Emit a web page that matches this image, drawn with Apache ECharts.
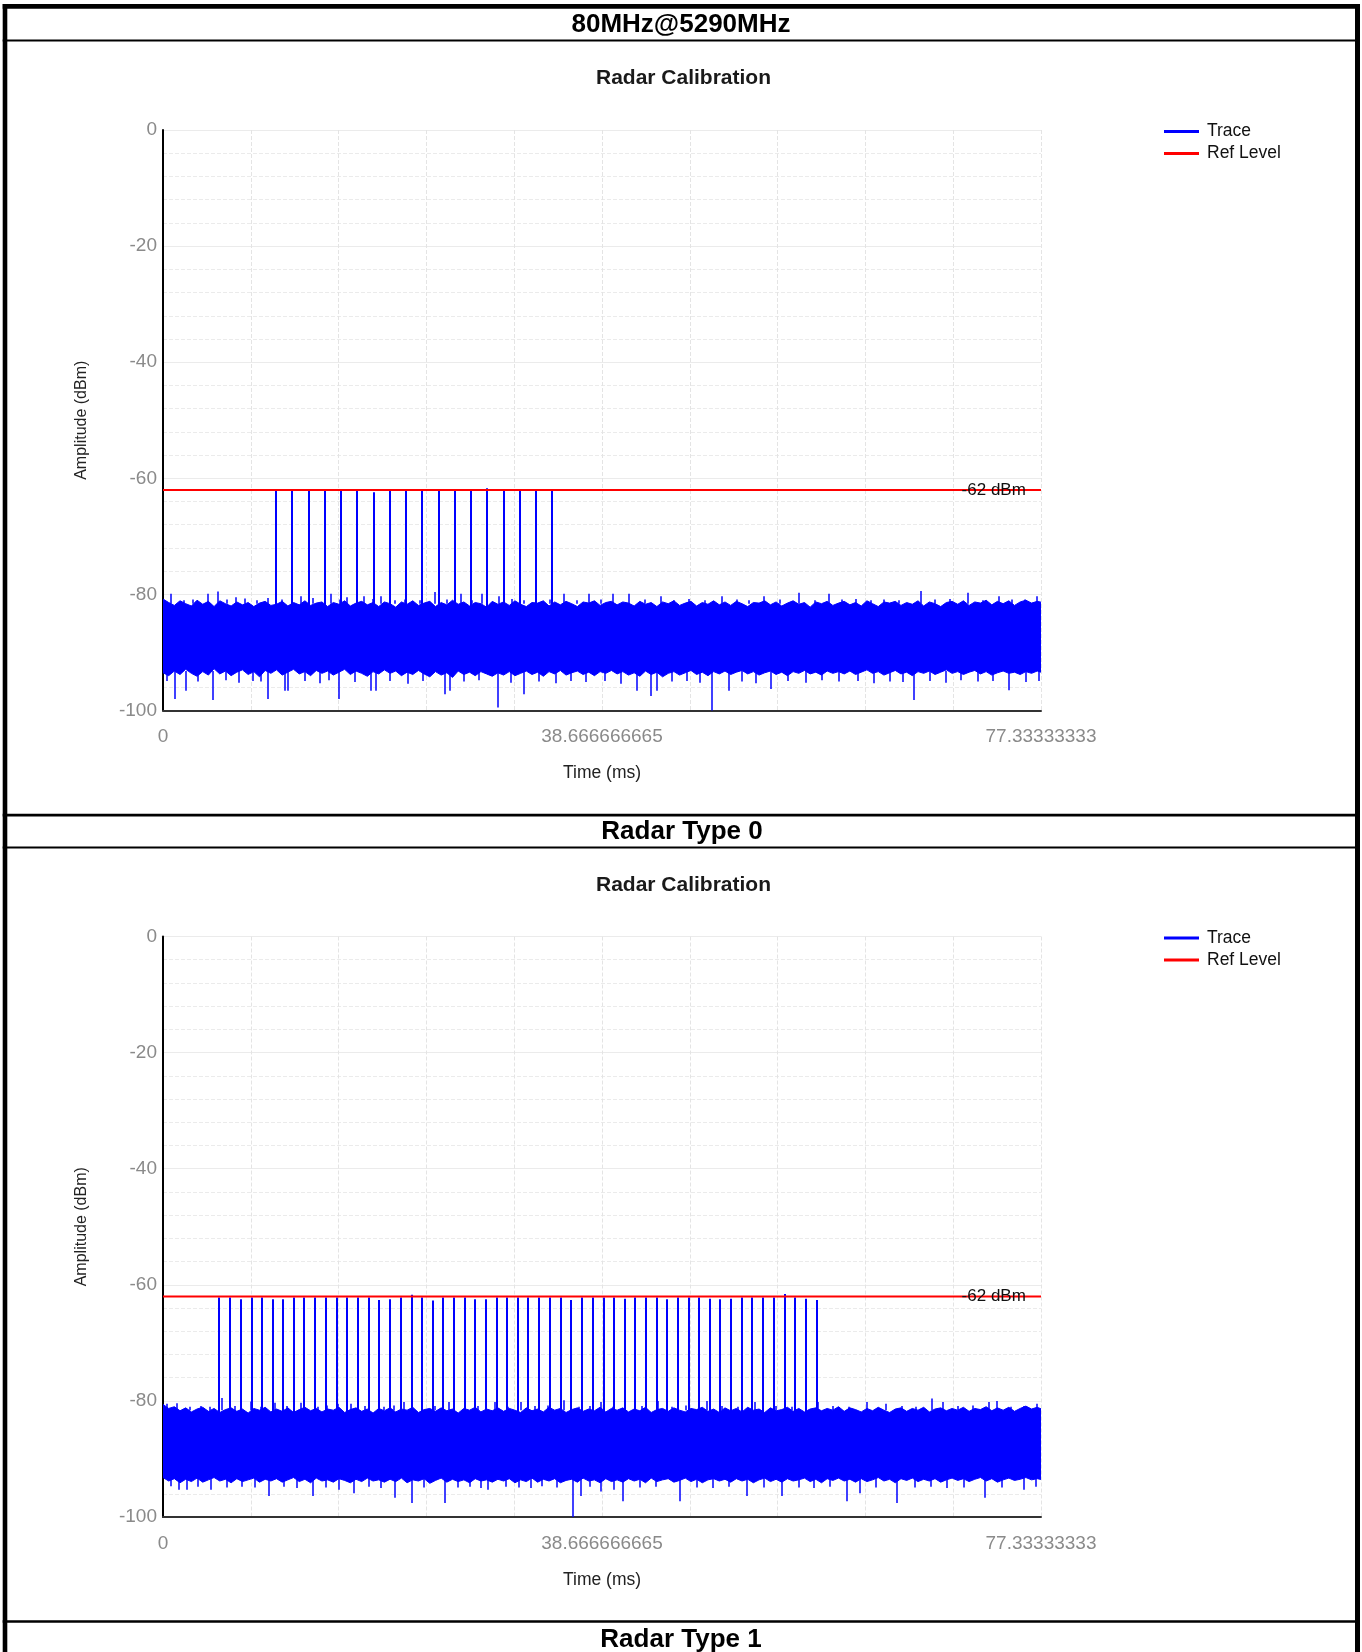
<!DOCTYPE html>
<html><head><meta charset="utf-8">
<script src="https://cdn.jsdelivr.net/npm/echarts@6/dist/echarts.min.js"></script>
<style>html,body{margin:0;padding:0;background:#fff}#c{width:1362px;height:1652px}</style>
</head><body><div id="c"></div>
<script>
// ---------- text ----------
const pageTitle = '80MHz@5290MHz';
const panelCaptions = ['Radar Type 0', 'Radar Type 1'];
const chartTitle = 'Radar Calibration';
const xAxisName = 'Time (ms)';
const yAxisName = 'Amplitude (dBm)';
const legendNames = ['Trace', 'Ref Level'];

// ---------- axes ----------
const timeMax = 77.33333333;
const xTickValues = [0, 38.666666665, 77.33333333];
const xTickLabels = ['0', '38.666666665', '77.33333333'];
const yMin = -100, yMax = 0, yStep = 20;
const refLevel = -62;
const noiseStepMs = 0.5; // sampling step of the envelope arrays below

// ---------- panel 0 (Radar Type 0) ----------
const pulseTimes0 = [9.93,11.36,12.80,14.24,15.65,17.09,18.52,19.97,21.38,22.81,24.25,25.69,27.10,28.54,29.97,31.42,32.83,34.26];
const pulsePeaks0 = [-62.1,-62.1,-62.1,-62.1,-62.1,-62.1,-62.4,-62.1,-62.1,-62.1,-62.1,-62.1,-62.1,-61.7,-62.2,-62.1,-62.1,-62.1];
const noiseTop0 = [
-80.8,-81.4,-81.9,-81.1,-81.6,-82.0,-81.0,-81.7,-81.2,-82.1,-81.1,-81.6,-82.0,-81.3,-81.8,-81.4,-82.1,-81.5,-81.2,-81.9,
-81.7,-81.2,-82.0,-81.4,-81.8,-81.1,-81.9,-81.5,-81.3,-82.1,-81.4,-81.7,-81.1,-82.0,-81.5,-81.2,-81.8,-81.4,-82.1,-81.3,
-81.6,-82.2,-81.3,-81.7,-81.1,-81.9,-81.5,-81.2,-82.1,-81.4,-81.8,-81.0,-81.7,-81.3,-82.0,-81.4,-81.6,-82.2,-81.2,-81.7,
-81.3,-81.9,-81.1,-81.7,-82.1,-81.4,-81.5,-81.1,-82.0,-81.3,-81.8,-81.2,-81.6,-82.1,-81.3,-81.5,-81.1,-81.9,-81.4,-81.2,
-81.8,-81.3,-81.5,-82.0,-81.2,-81.7,-81.4,-82.1,-81.3,-81.6,-81.1,-81.9,-81.5,-81.2,-82.0,-81.4,-81.7,-81.1,-81.8,-81.3,
-81.9,-81.2,-81.6,-82.1,-81.4,-81.5,-81.1,-81.8,-81.3,-82.0,-81.5,-81.1,-81.7,-81.4,-82.2,-81.3,-81.6,-81.2,-81.9,-81.5,
-81.2,-81.8,-81.4,-82.0,-81.1,-81.6,-82.1,-81.3,-81.5,-81.2,-81.9,-81.4,-81.7,-81.1,-82.0,-81.3,-81.6,-82.1,-81.4,-81.2,
-81.7,-81.1,-81.9,-81.3,-81.5,-81.0,-81.8,-81.2,-81.6,-81.1,-81.9,-81.3,-81.0,-81.5,-81.2,-81.4];
const noiseBottom0 = [
-93.5,-94.0,-93.2,-93.8,-92.9,-93.6,-94.1,-93.3,-93.9,-92.8,-93.7,-93.2,-94.0,-93.4,-93.0,-93.8,-93.3,-94.2,-93.1,-93.6,
-93.0,-93.9,-93.4,-92.9,-93.7,-93.3,-94.0,-93.1,-93.6,-93.2,-93.9,-93.4,-92.9,-93.8,-93.2,-93.6,-94.1,-93.3,-93.7,-93.0,
-93.6,-93.2,-94.0,-93.4,-93.8,-93.1,-93.7,-94.2,-93.3,-93.9,-93.5,-94.3,-93.2,-93.8,-93.4,-94.0,-93.3,-93.7,-94.1,-93.5,
-93.9,-93.3,-94.0,-93.6,-93.2,-93.8,-93.4,-94.1,-93.3,-93.7,-93.1,-93.9,-93.5,-93.2,-93.8,-93.4,-94.0,-93.3,-93.6,-93.1,
-93.7,-93.3,-93.9,-93.5,-94.1,-93.2,-93.8,-93.4,-94.2,-93.6,-93.3,-93.9,-93.5,-93.1,-93.8,-93.4,-94.0,-93.3,-93.7,-93.2,
-93.8,-93.4,-93.1,-93.7,-93.3,-93.9,-93.5,-93.2,-93.8,-93.4,-94.0,-93.3,-93.6,-93.1,-93.7,-93.4,-93.9,-93.2,-93.6,-93.3,
-93.7,-93.2,-93.8,-93.4,-93.0,-93.6,-93.3,-93.9,-93.5,-93.1,-93.7,-93.4,-94.0,-93.3,-93.6,-93.2,-93.8,-93.4,-93.0,-93.6,
-93.3,-93.8,-93.4,-93.1,-93.7,-93.3,-93.9,-93.5,-93.2,-93.6,-93.4,-93.8,-93.3,-93.6,-93.2,-93.5];
const upSpikes0 = [
[0.7,-79.9],[1.8,-81.0],[2.6,-80.9],[3.9,-79.9],[4.8,-79.5],[5.6,-80.9],[6.4,-80.5],[7.2,-80.7],[8.3,-81.0],[9.2,-80.6],
[10.5,-80.9],[11.3,-81.0],[12.1,-80.3],[13.2,-80.6],[14.8,-79.9],[15.6,-80.9],[16.2,-80.5],[17.7,-80.3],[18.5,-80.8],[19.2,-80.3],
[20.4,-81.0],[21.3,-80.9],[22.6,-81.0],[23.9,-79.6],[25.0,-80.9],[26.2,-79.9],[27.2,-81.0],[28.1,-79.9],[29.6,-80.3],[30.7,-80.8],
[31.8,-81.0],[32.8,-80.6],[34.1,-80.9],[35.3,-79.9],[36.4,-81.0],[37.5,-79.9],[38.6,-80.9],[39.6,-79.9],[41.0,-79.9],[42.4,-80.9],
[43.8,-80.3],[45.0,-81.0],[46.3,-80.8],[47.7,-81.0],[49.2,-80.3],[50.5,-80.9],[51.6,-81.0],[52.9,-80.3],[54.3,-80.9],[56.0,-79.7],
[57.4,-81.0],[58.6,-79.9],[59.8,-80.9],[61.0,-80.8],[62.3,-81.0],[63.5,-80.9],[64.8,-81.0],[66.7,-79.4],[68.0,-80.9],[69.3,-80.8],
[70.9,-79.7],[72.2,-81.0],[73.6,-80.3],[74.8,-80.9],[75.9,-80.9],[77.0,-80.3]];
const downSpikes0 = [
[0.3,-94.9],[1.0,-98.0],[2.0,-96.6],[3.1,-95.0],[4.4,-98.2],[5.5,-94.8],[6.7,-95.2],[7.9,-94.9],[8.6,-95.0],[9.2,-98.0],
[10.7,-96.6],[11.0,-96.6],[12.5,-94.9],[13.8,-95.3],[14.6,-94.8],[15.5,-98.0],[16.9,-95.1],[18.3,-96.6],[18.7,-96.6],[20.0,-94.9],
[21.6,-95.4],[22.9,-94.9],[24.8,-97.2],[25.3,-96.6],[26.5,-95.0],[27.8,-94.8],[29.5,-99.5],[30.6,-95.2],[31.8,-97.2],[33.1,-95.0],
[34.6,-95.3],[35.9,-94.9],[37.2,-95.1],[38.9,-94.9],[40.3,-95.4],[41.7,-96.6],[43.0,-97.5],[43.5,-96.6],[44.8,-95.0],[46.1,-94.9],
[47.3,-95.2],[48.3,-100.0],[49.8,-96.6],[51.0,-95.0],[52.2,-95.3],[53.5,-96.3],[55.0,-94.9],[56.6,-95.2],[58.0,-94.8],[59.5,-95.0],
[61.2,-94.9],[62.6,-95.3],[64.0,-95.0],[65.2,-95.1],[66.1,-98.2],[67.5,-94.9],[68.9,-95.2],[70.3,-94.8],[71.8,-95.0],[73.1,-94.9],
[74.5,-96.5],[76.0,-95.1],[77.1,-94.9]];

// ---------- panel 1 (Radar Type 1) ----------
const pulseTimes1 = [4.93,5.87,6.81,7.78,8.72,9.63,10.57,11.51,12.44,13.39,14.33,15.26,16.21,17.15,18.08,19.02,19.97,20.90,21.87,22.78,
23.72,24.66,25.60,26.54,27.48,28.42,29.36,30.30,31.24,32.17,33.12,34.08,35.03,35.93,36.90,37.85,38.78,39.72,40.63,41.57,
42.51,43.45,44.39,45.33,46.27,47.21,48.15,49.08,50.03,50.97,51.90,52.84,53.79,54.72,55.66,56.61,57.57];
const pulsePeaks1 = [-62.2,-62.2,-62.5,-62.2,-62.2,-62.5,-62.5,-62.2,-62.2,-62.2,-62.2,-62.2,-62.2,-62.2,-62.2,-62.6,-62.5,-62.2,-61.7,-62.2,
-62.7,-62.2,-62.2,-62.2,-62.5,-62.5,-62.2,-62.2,-62.2,-62.2,-62.2,-62.2,-62.2,-62.6,-62.2,-62.2,-62.2,-62.2,-62.4,-62.2,
-62.2,-62.2,-62.5,-62.2,-62.2,-62.2,-62.4,-62.5,-62.4,-62.2,-62.2,-62.2,-62.2,-61.6,-62.2,-62.4,-62.6];
const noiseTop1 = [
-80.6,-81.3,-81.0,-81.7,-81.2,-81.9,-81.4,-81.1,-81.8,-81.3,-82.0,-81.5,-81.2,-81.8,-81.4,-82.1,-81.3,-81.6,-81.1,-81.9,
-81.4,-81.8,-81.2,-82.0,-81.5,-81.1,-81.7,-81.3,-81.9,-81.4,-81.6,-81.1,-82.0,-81.5,-81.2,-81.8,-81.4,-82.1,-81.3,-81.7,
-81.2,-81.9,-81.4,-81.6,-81.1,-82.0,-81.5,-81.3,-81.8,-81.2,-81.7,-81.4,-82.1,-81.3,-81.6,-81.1,-81.9,-81.4,-81.7,-81.2,
-81.8,-81.3,-81.6,-82.0,-81.2,-81.7,-81.4,-81.9,-81.1,-81.6,-81.3,-82.0,-81.5,-81.2,-81.8,-81.4,-81.7,-81.1,-81.9,-81.3,
-81.6,-81.2,-81.9,-81.4,-81.7,-81.1,-82.0,-81.5,-81.3,-81.8,-81.2,-81.6,-81.9,-81.3,-81.5,-81.1,-81.8,-81.4,-82.0,-81.2,
-81.7,-81.3,-81.9,-81.1,-81.6,-81.4,-82.0,-81.2,-81.7,-81.5,-81.1,-81.8,-81.3,-81.9,-81.4,-81.2,-81.7,-81.3,-81.6,-81.0,
-81.8,-81.2,-81.5,-81.9,-81.3,-81.7,-81.1,-81.6,-82.0,-81.4,-81.2,-81.8,-81.3,-81.6,-81.1,-81.9,-81.4,-81.2,-81.7,-81.3,
-81.6,-81.1,-81.8,-81.3,-81.5,-81.0,-81.7,-81.2,-81.6,-81.1,-81.8,-81.3,-80.9,-81.4,-81.1,-81.5];
const noiseBottom1 = [
-93.2,-93.8,-93.4,-94.1,-93.5,-93.9,-93.3,-94.0,-93.6,-93.2,-93.8,-93.5,-94.1,-93.4,-93.9,-93.6,-93.3,-94.0,-93.5,-93.8,
-93.4,-94.0,-93.6,-93.2,-93.9,-93.5,-94.1,-93.3,-93.8,-93.6,-94.0,-93.4,-93.7,-94.1,-93.5,-93.9,-93.3,-93.8,-93.6,-94.0,
-93.5,-93.9,-93.3,-94.1,-93.6,-93.8,-93.4,-94.2,-93.7,-93.3,-94.0,-93.5,-93.9,-93.6,-94.1,-93.4,-93.8,-93.6,-94.0,-93.5,
-93.8,-93.4,-94.1,-93.6,-93.9,-93.3,-94.0,-93.5,-93.8,-93.4,-94.1,-93.7,-93.5,-94.0,-93.3,-93.8,-93.6,-94.1,-93.4,-93.9,
-93.6,-94.0,-93.4,-93.8,-93.5,-94.1,-93.3,-93.9,-93.6,-93.4,-94.0,-93.7,-93.3,-93.9,-93.5,-94.1,-93.6,-93.4,-93.8,-93.5,
-94.0,-93.4,-93.8,-93.5,-94.1,-93.6,-93.3,-93.9,-93.5,-94.0,-93.4,-93.8,-93.6,-93.3,-93.9,-93.5,-94.1,-93.4,-93.7,-93.3,
-93.8,-93.5,-94.0,-93.4,-93.9,-93.6,-93.2,-93.8,-93.5,-94.1,-93.4,-93.7,-93.3,-93.9,-93.5,-93.8,-93.4,-94.0,-93.6,-93.3,
-93.7,-93.4,-93.9,-93.5,-93.2,-93.8,-93.4,-94.0,-93.6,-93.3,-93.7,-93.5,-93.2,-93.6,-93.4,-93.6];
const upSpikes1 = [
[0.3,-80.5],[1.2,-80.4],[2.4,-81.0],[3.3,-80.9],[4.1,-81.0],[5.2,-79.5],[6.3,-80.9],[7.7,-80.1],[8.6,-81.0],[9.8,-80.3],
[10.9,-80.9],[12.1,-80.3],[13.6,-81.0],[14.4,-80.8],[15.4,-80.5],[16.5,-80.5],[17.8,-80.9],[19.4,-81.0],[20.3,-80.8],[21.2,-80.2],
[22.8,-79.7],[23.9,-80.9],[25.2,-80.2],[26.6,-81.0],[27.7,-80.9],[29.2,-80.2],[30.4,-81.0],[31.5,-80.2],[32.7,-80.9],[33.9,-80.8],
[35.3,-79.9],[36.6,-81.0],[37.6,-80.9],[38.6,-80.2],[39.6,-81.0],[40.7,-79.6],[42.2,-80.9],[43.6,-80.0],[44.8,-81.0],[46.0,-80.8],
[47.9,-80.0],[49.2,-80.9],[50.6,-81.0],[52.1,-80.2],[54.0,-80.9],[55.4,-81.0],[56.6,-80.8],[57.7,-80.2],[59.0,-80.9],[60.4,-81.0],
[62.0,-80.2],[63.7,-80.5],[65.1,-80.9],[66.3,-81.0],[67.7,-79.6],[68.7,-80.2],[70.0,-80.9],[71.3,-80.8],[72.7,-80.2],[73.4,-80.0],
[74.7,-81.0],[75.8,-80.9],[77.0,-80.5]];
const downSpikes1 = [
[0.7,-94.7],[1.4,-95.3],[2.1,-95.3],[3.1,-94.8],[4.2,-95.3],[5.6,-94.9],[6.9,-94.8],[8.1,-94.9],[9.3,-96.4],[10.6,-94.8],
[11.8,-95.0],[13.2,-96.4],[14.3,-94.9],[15.5,-95.3],[16.8,-95.9],[18.1,-94.8],[19.2,-95.0],[20.4,-96.7],[21.9,-97.6],[23.0,-94.9],
[24.8,-97.6],[26.0,-94.9],[27.0,-94.8],[28.0,-95.0],[28.6,-95.3],[30.2,-94.8],[31.3,-94.9],[32.4,-95.0],[33.4,-94.7],[34.7,-94.9],
[36.1,-100.0],[36.8,-96.4],[37.6,-94.8],[38.6,-95.6],[39.7,-95.3],[40.5,-97.3],[42.0,-94.9],[43.4,-94.8],[45.5,-97.3],[47.0,-94.9],
[48.4,-95.0],[49.8,-94.8],[51.4,-96.4],[52.9,-94.9],[54.5,-96.4],[56.0,-94.9],[57.3,-95.0],[58.7,-94.8],[60.2,-97.3],[61.4,-95.9],
[62.8,-94.9],[64.6,-97.6],[66.2,-94.9],[67.6,-94.8],[69.0,-95.0],[70.5,-94.9],[72.4,-96.7],[73.9,-94.9],[75.8,-95.3],[76.9,-94.8]];

const panels = [
  {pulseTimes: pulseTimes0, pulsePeaks: pulsePeaks0, top: noiseTop0, bottom: noiseBottom0, up: upSpikes0, down: downSpikes0},
  {pulseTimes: pulseTimes1, pulsePeaks: pulsePeaks1, top: noiseTop1, bottom: noiseBottom1, up: upSpikes1, down: downSpikes1}
];

// ---------- layout / style ----------
const FONT = '"Liberation Sans", Arial, sans-serif';
const BLUE = '#0000ff', RED = '#ff0000';
const panelOffset = 806.5;
const gridTop0 = 130, gridLeft = 163, gridW = 878, gridH = 580.5;
const pulseBase = -84, upBase = -81.6, downBase = -93.2;
const refLabelTime = 76.0;

const chart = echarts.init(document.getElementById('c'), null, {renderer: 'canvas'});

const grids = [], xAxes = [], yAxes = [], series = [], legends = [];
panels.forEach((d, p) => {
  grids.push({left: gridLeft, top: gridTop0 + p * panelOffset, width: gridW, height: gridH, containLabel: false});
  xAxes.push({
    gridIndex: p, type: 'value', min: 0, max: timeMax, interval: timeMax / 10,
    axisLine: {show: true, onZero: false, lineStyle: {color: '#333', width: 2}},
    axisTick: {show: false},
    axisLabel: {
      color: '#8a8a8a', fontSize: 19, fontFamily: FONT, margin: 17, hideOverlap: false,
      showMinLabel: true, showMaxLabel: true,
      formatter: v => { const k = xTickValues.findIndex(t => Math.abs(t - v) < 0.01); return k >= 0 ? xTickLabels[k] : ''; }
    },
    splitLine: {show: true, lineStyle: {color: '#e4e4e4', type: 'dashed', width: 1}},
    name: xAxisName, nameLocation: 'middle', nameGap: 54,
    nameTextStyle: {color: '#222', fontSize: 17.5, fontFamily: FONT}
  });
  yAxes.push({
    gridIndex: p, type: 'value', min: yMin, max: yMax, interval: yStep,
    axisLine: {show: true, onZero: false, lineStyle: {color: '#000', width: 2}},
    axisTick: {show: false},
    axisLabel: {color: '#8a8a8a', fontSize: 19, fontFamily: FONT, margin: 6},
    splitLine: {show: true, lineStyle: {color: '#ebebeb', width: 1}},
    minorTick: {show: false, splitNumber: 5},
    minorSplitLine: {show: true, lineStyle: {color: '#ebebeb', type: 'dashed', width: 1}},
    name: yAxisName, nameLocation: 'middle', nameGap: 73,
    nameTextStyle: {color: '#222', fontSize: 16, fontFamily: FONT}
  });

  // noise band: one polygon through the top envelope and back along the bottom envelope
  const bandData = d.top.map((v, i) => [i * noiseStepMs, v, d.bottom[i]]);
  series.push({
    name: legendNames[0], type: 'custom', xAxisIndex: p, yAxisIndex: p, clip: true, silent: true, z: 2,
    encode: {x: 0, y: [1, 2]},
    itemStyle: {color: BLUE},
    data: bandData,
    renderItem: (params, api) => {
      if (params.dataIndex !== 0) return null;
      const pts = [];
      bandData.forEach(r => pts.push(api.coord([r[0], r[1]])));
      for (let i = bandData.length - 1; i >= 0; i--) pts.push(api.coord([bandData[i][0], bandData[i][2]]));
      return {type: 'polygon', shape: {points: pts}, style: {fill: BLUE, stroke: BLUE, lineWidth: 1}};
    }
  });
  series.push({
    name: legendNames[0], type: 'lines', coordinateSystem: 'cartesian2d', xAxisIndex: p, yAxisIndex: p,
    data: d.up.map(s => ({coords: [[s[0], upBase], [s[0], s[1]]]}))
      .concat(d.down.map(s => ({coords: [[s[0], downBase], [s[0], s[1]]]}))),
    lineStyle: {color: BLUE, width: 1.5, opacity: 1}, z: 2, silent: true
  });
  series.push({
    name: legendNames[0], type: 'lines', coordinateSystem: 'cartesian2d', xAxisIndex: p, yAxisIndex: p,
    data: d.pulseTimes.map((t, i) => ({coords: [[t, pulseBase], [t, d.pulsePeaks[i]]]})),
    lineStyle: {color: BLUE, width: 2, opacity: 1}, z: 3, silent: true
  });
  series.push({
    name: legendNames[1], type: 'line', xAxisIndex: p, yAxisIndex: p,
    data: [[0, refLevel], [timeMax, refLevel]], showSymbol: false, symbol: 'none',
    lineStyle: {color: RED, width: 2}, itemStyle: {color: RED}, z: 4, silent: true,
    markPoint: {
      symbol: 'circle', symbolSize: 0, silent: true,
      data: [{coord: [refLabelTime, refLevel]}],
      label: {show: true, position: 'left', distance: 0, formatter: refLevel + ' dBm',
              color: '#111', fontSize: 17, fontFamily: FONT}
    }
  });
  legends.push({
    data: legendNames.map(n => ({name: n, icon: 'rect', itemStyle: {color: n === legendNames[0] ? BLUE : RED}})),
    orient: 'vertical', left: 1164, top: 122.5 + p * panelOffset, padding: 0,
    itemWidth: 35, itemHeight: 3, itemGap: 4, selectedMode: false,
    textStyle: {color: '#111', fontSize: 17.5, fontFamily: FONT, lineHeight: 18, padding: [0, 0, 0, 3]}
  });
});

const txt = (text, x, y, font, fill) => ({
  type: 'text', x, y, silent: true,
  style: {text, font, fill: fill || '#000', textAlign: 'center', textVerticalAlign: 'middle', align: 'center', verticalAlign: 'middle'}
});
const bar = (x, y, w, h) => ({type: 'rect', silent: true, shape: {x, y, width: w, height: h}, style: {fill: '#000'}});

const graphics = [
  bar(2.7, 4, 1357.3, 4.8),      // top border
  bar(2.7, 4, 4.6, 1652),        // left border
  bar(1355, 4, 5, 1652),         // right border
  bar(2.7, 39.5, 1357.3, 2),     // header divider
  bar(2.7, 813.8, 1357.3, 2.6),
  bar(2.7, 846.5, 1357.3, 2),
  bar(2.7, 1620.2, 1357.3, 2.6),
  txt(pageTitle, 681, 25, 'bold 26px ' + FONT),
  txt(panelCaptions[0], 682, 831.5, 'bold 26px ' + FONT),
  txt(panelCaptions[1], 681, 1639.5, 'bold 26px ' + FONT),
  txt(chartTitle, 683.5, 78.5, 'bold 21px ' + FONT, '#1a1a1a'),
  txt(chartTitle, 683.5, 78.5 + panelOffset, 'bold 21px ' + FONT, '#1a1a1a')
];

chart.setOption({
  animation: false,
  backgroundColor: '#fff',
  grid: grids, xAxis: xAxes, yAxis: yAxes, series, legend: legends,
  graphic: graphics
});
</script></body></html>
